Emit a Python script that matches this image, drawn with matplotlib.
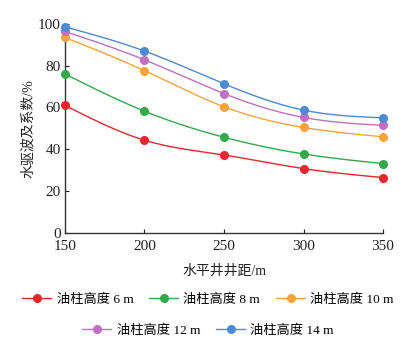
import numpy as np
import matplotlib
matplotlib.use("Agg")
import matplotlib.pyplot as plt
from matplotlib.lines import Line2D

spacing = [150, 200, 250, 300, 350]
series_names = ["油柱高度 6 m", "油柱高度 8 m", "油柱高度 10 m", "油柱高度 12 m", "油柱高度 14 m"]
h6 = [61.0, 44.3, 37.2, 30.7, 26.4]
h8 = [76.0, 58.2, 45.7, 37.7, 33.1]
h10 = [93.5, 77.6, 60.3, 50.4, 45.9]
h12 = [96.4, 82.8, 66.6, 55.2, 51.4]
h14 = [98.6, 87.0, 71.3, 58.7, 55.0]
colors = ["#e8262c", "#33a94a", "#f7a33b", "#c16fc0", "#4a8bd1"]
yticks = [0, 20, 40, 60, 80, 100]
xticks = [150, 200, 250, 300, 350]

plt.rcParams['font.family'] = ['Liberation Serif', 'Noto Sans CJK SC']


def natural_spline(x, y, n=200):
    x = np.asarray(x, float); y = np.asarray(y, float)
    k = len(x)
    h = np.diff(x)
    A = np.zeros((k, k)); b = np.zeros(k)
    A[0, 0] = 1; A[-1, -1] = 1
    for i in range(1, k - 1):
        A[i, i - 1] = h[i - 1]
        A[i, i] = 2 * (h[i - 1] + h[i])
        A[i, i + 1] = h[i]
        b[i] = 6 * ((y[i + 1] - y[i]) / h[i] - (y[i] - y[i - 1]) / h[i - 1])
    M = np.linalg.solve(A, b)
    xs = np.linspace(x[0], x[-1], n)
    ys = np.empty_like(xs)
    for j, xv in enumerate(xs):
        i = min(np.searchsorted(x, xv) - 1, k - 2)
        i = max(i, 0)
        t0 = x[i + 1] - xv; t1 = xv - x[i]
        ys[j] = (M[i] * t0**3 + M[i + 1] * t1**3) / (6 * h[i]) \
            + (y[i] / h[i] - M[i] * h[i] / 6) * t0 \
            + (y[i + 1] / h[i] - M[i + 1] * h[i] / 6) * t1
    return xs, ys


fig = plt.figure(figsize=(4.08, 3.51), dpi=100)
ax = fig.add_axes([0.159, 0.337, 0.78, 0.595])

data = [h6, h8, h10, h12, h14]
for vals, c in zip(data, colors):
    xs, ys = natural_spline(spacing, vals)
    ax.plot(xs, ys, color=c, lw=1.0, zorder=2)
    ax.plot(spacing, vals, 'o', color=c, ms=5.5, zorder=3, clip_on=False)

ax.set_xlim(150, 350)
ax.set_ylim(0, 100)
ax.set_xticks(xticks)
ax.set_yticks(yticks)
ax.tick_params(direction='in', length=3, width=0.8, labelsize=11, colors='#222222')
ax.tick_params(axis='x', pad=5)
ax.tick_params(axis='y', pad=3)
for s in ['top', 'right']:
    ax.spines[s].set_visible(False)
for s in ['left', 'bottom']:
    ax.spines[s].set_color('#333333')
    ax.spines[s].set_linewidth(1.0)

ax.set_xlabel("水平井井距/m", fontsize=10, labelpad=9, color='#222222')
ax.set_ylabel("水驱波及系数/%", fontsize=10, labelpad=2, color='#222222')

hl = [Line2D([], [], color=c, lw=1.0, marker='o', ms=5.5) for c in colors]

fig.legend(hl[:3], series_names[:3], loc='center', bbox_to_anchor=(0.51, 0.146),
           ncol=3, frameon=False, fontsize=9.5, handlelength=2.2,
           columnspacing=1.2, handletextpad=0.4)
fig.legend(hl[3:], series_names[3:], loc='center', bbox_to_anchor=(0.51, 0.058),
           ncol=2, frameon=False, fontsize=9.5, handlelength=2.2,
           columnspacing=1.2, handletextpad=0.4)

fig.savefig("out.png", dpi=100)
